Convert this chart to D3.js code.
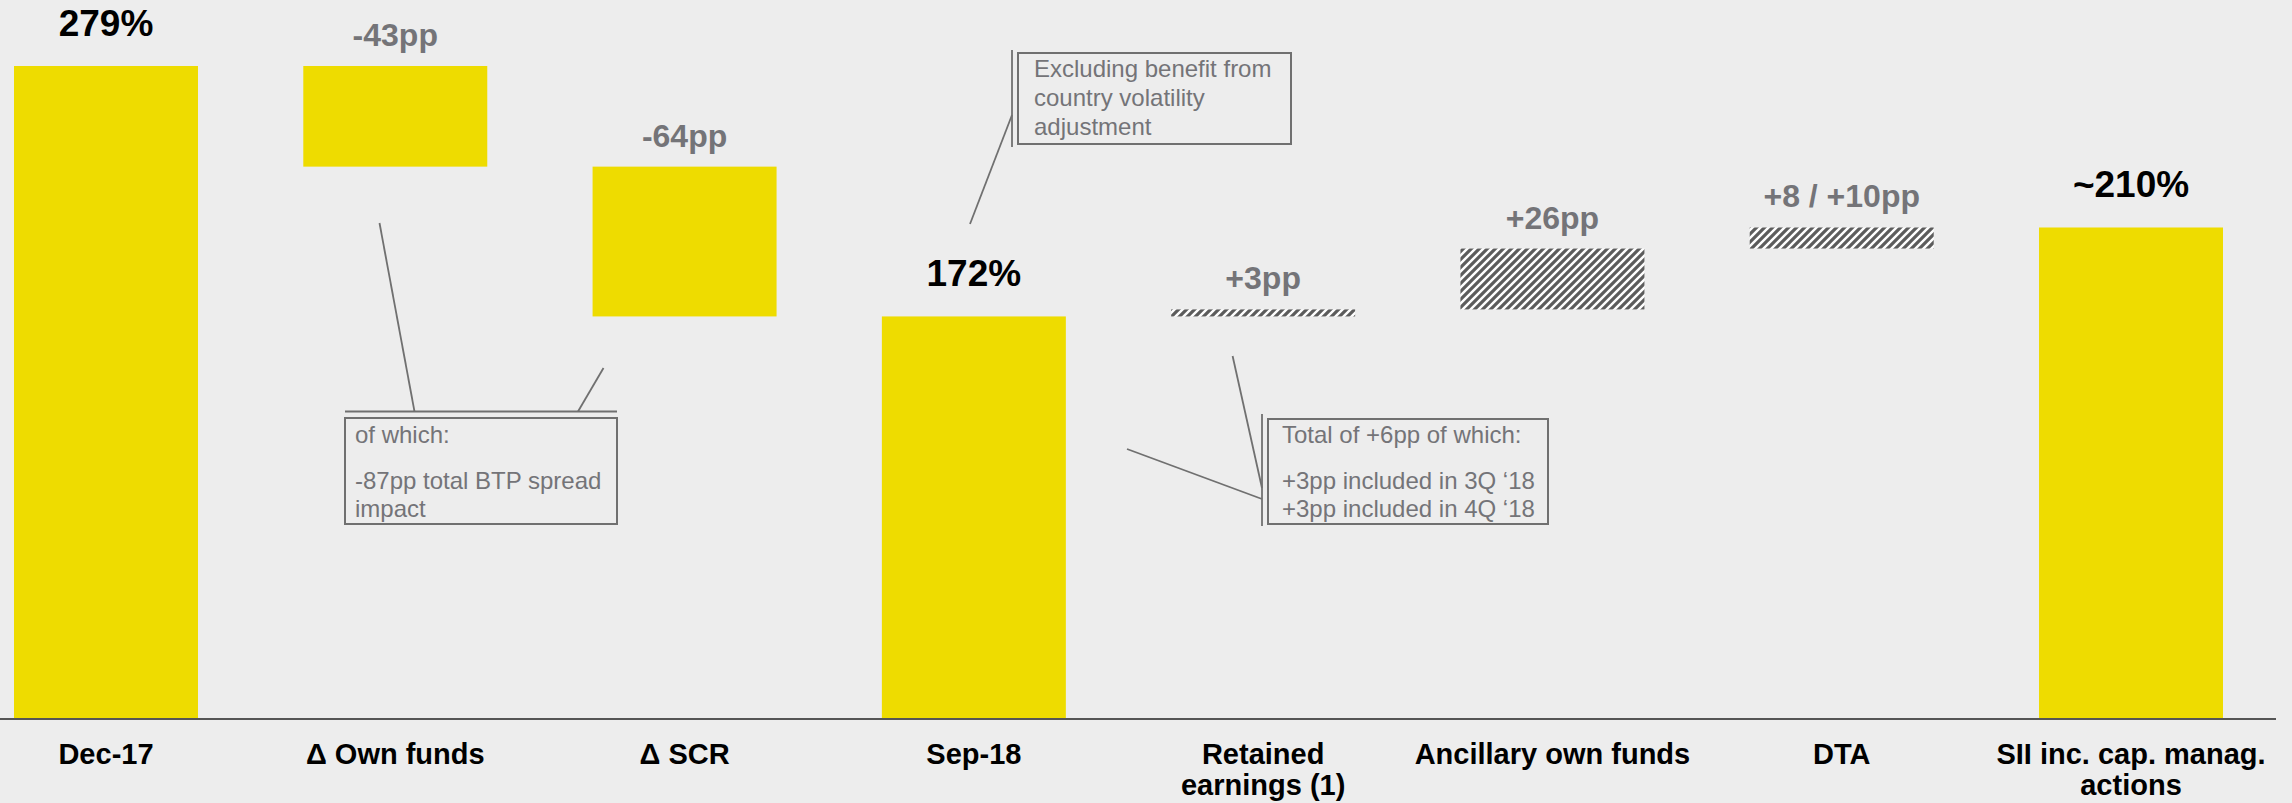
<!DOCTYPE html>
<html>
<head>
<meta charset="utf-8">
<script src="https://cdn.jsdelivr.net/npm/d3@7"></script>
<style>
  html, body { margin: 0; padding: 0; background: #ededed; }
  svg { display: block; font-family: "Liberation Sans", Arial, sans-serif; }
</style>
</head>
<body>
<div id="chart"></div>
<script>
// Solvency ratio walk, Dec-17 -> SII incl. capital management actions
const categories = ['Dec-17', 'Δ Own funds', 'Δ SCR', 'Sep-18', 'Retained\nearnings (1)',
  'Ancillary own funds', 'DTA', 'SII inc. cap. manag.\nactions']
const values = [279, -43, -64, 172, 3, 26, 9, 210]
const kinds = ['total', 'delta', 'delta', 'total', 'pending', 'pending', 'pending', 'total']
const valueLabels = ['279%', '-43pp', '-64pp', '172%', '+3pp', '+26pp', '+8 / +10pp', '~210%']

const width = 2292,
  height = 803,
  baseY = 719,
  topY = 66

const yellow = '#eedc00',
  grey = '#747478',
  lineGrey = '#707070'

let svg = d3.select('#chart')
  .append('svg')
  .attr('width', width)
  .attr('height', height)
  .style('background', '#ededed')

// hatch for the pending items
let defs = svg.append('defs')
let pat = defs.append('pattern')
  .attr('id', 'hatch')
  .attr('patternUnits', 'userSpaceOnUse')
  .attr('width', 8)
  .attr('height', 8)
pat.append('rect').attr('width', 8).attr('height', 8).attr('fill', '#ffffff')
pat.append('path')
  .attr('d', 'M-2,2 l4,-4 M0,8 l8,-8 M6,10 l4,-4')
  .attr('stroke', '#5c5c5c')
  .attr('stroke-width', 3.2)

// waterfall levels
let running = 0
let steps = values.map((v, i) => {
  let lo, hi
  if (kinds[i] === 'total') {
    lo = 0; hi = v; running = v
  } else {
    let next = running + v
    lo = Math.min(running, next); hi = Math.max(running, next)
    running = next
  }
  return { cat: categories[i], kind: kinds[i], lo: lo, hi: hi, label: valueLabels[i] }
})

const x = d3.scaleBand()
  .domain(categories)
  .range([14, 2223])
  .paddingInner(0.364)
  .paddingOuter(0)

const y = d3.scaleLinear()
  .domain([0, 279])
  .range([baseY, topY])

// bars
svg.selectAll('rect.bar')
  .data(steps)
  .enter()
  .append('rect')
  .attr('class', 'bar')
  .attr('x', d => x(d.cat))
  .attr('y', d => y(d.hi))
  .attr('width', x.bandwidth())
  .attr('height', d => y(d.lo) - y(d.hi))
  .attr('fill', d => d.kind === 'pending' ? 'url(#hatch)' : yellow)

// value labels
svg.selectAll('text.val')
  .data(steps)
  .enter()
  .append('text')
  .attr('class', 'val')
  .attr('x', d => x(d.cat) + x.bandwidth() / 2)
  .attr('y', d => y(d.hi) - (d.kind === 'total' ? 30 : 20))
  .attr('text-anchor', 'middle')
  .attr('font-weight', 'bold')
  .attr('font-size', d => d.kind === 'total' ? 37 : 32)
  .attr('fill', d => d.kind === 'total' ? '#000' : grey)
  .text(d => d.label)

// baseline axis with category labels
let xAxis = svg.append('g')
  .attr('class', 'xAxis')
  .attr('transform', `translate(0, ${baseY})`)
  .call(d3.axisBottom(x).tickSize(0).tickFormat(''))
xAxis.select('.domain')
  .attr('d', 'M0,0H2276')
  .attr('stroke', '#555')
  .attr('stroke-width', 2)

xAxis.selectAll('.tick text').remove()
xAxis.selectAll('.tick')
  .append('text')
  .attr('text-anchor', 'middle')
  .attr('font-size', 29)
  .attr('font-weight', 'bold')
  .attr('fill', '#000')
  .selectAll('tspan')
  .data(d => d.split('\n'))
  .enter()
  .append('tspan')
  .attr('x', 0)
  .attr('y', (d, i) => 45 + i * 31)
  .text(d => d)

// callouts
let note = (lines, tx, baselines) => {
  let t = svg.append('text')
    .attr('font-size', 24)
    .attr('fill', grey)
  lines.forEach((l, i) => {
    t.append('tspan').attr('x', tx).attr('y', baselines[i]).text(l)
  })
}
let box = (x0, y0, x1, y1) => {
  svg.append('rect')
    .attr('x', x0).attr('y', y0)
    .attr('width', x1 - x0).attr('height', y1 - y0)
    .attr('fill', 'none')
    .attr('stroke', lineGrey)
    .attr('stroke-width', 2)
}
let line = (x0, y0, x1, y1) => {
  svg.append('line')
    .attr('x1', x0).attr('y1', y0)
    .attr('x2', x1).attr('y2', y1)
    .attr('stroke', lineGrey)
    .attr('stroke-width', 1.8)
}

// BTP spread callout
box(345, 418, 617, 524)
line(345, 411.5, 617, 411.5)
line(379.5, 223, 414.5, 411.5)
line(603.5, 368, 578, 411.5)
note(['of which:', '-87pp total BTP spread', 'impact'], 355, [443, 489, 517])

// volatility adjustment callout
box(1018, 53, 1291, 144)
line(1012, 50, 1012, 147)
line(1012, 115, 970, 224)
note(['Excluding benefit from', 'country volatility', 'adjustment'], 1034, [77, 106, 135])

// retained earnings callout
box(1268, 419, 1548, 524)
line(1262, 414, 1262, 526)
line(1127, 449, 1262, 499)
line(1232.6, 356, 1262, 488)
note(['Total of +6pp of which:', '+3pp included in 3Q \u201818', '+3pp included in 4Q \u201818'], 1282, [443, 489, 517])
</script>
</body>
</html>
